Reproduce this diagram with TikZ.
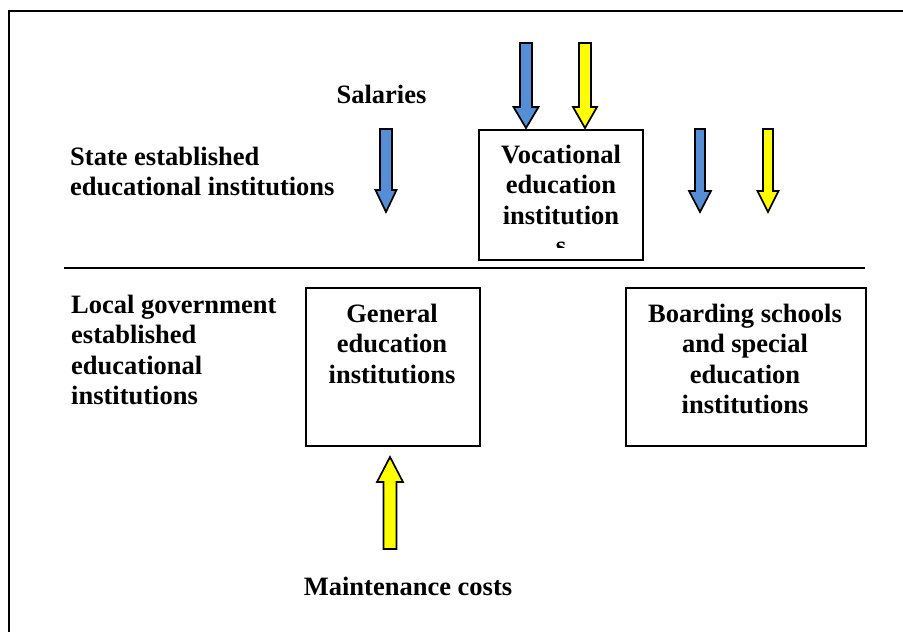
\documentclass[tikz,border=0pt]{standalone}
\usepackage{fontspec}
\setmainfont{Liberation Serif}
\definecolor{arrblue}{RGB}{85,142,213}
\definecolor{arryellow}{RGB}{255,255,0}
% block arrow: fill colour, centre x, tail y, head-start y, tip y, shaft half width, head half width
\newcommand\blockarr[7]{\filldraw[arrowbody,fill=#1] (#2-#6,#3) -- (#2+#6,#3) -- (#2+#6,#4) -- (#2+#7,#4) -- (#2,#5) -- (#2-#7,#4) -- (#2-#6,#4) -- cycle;}
\newcommand\firstline{\rule{0pt}{20pt}}
\begin{document}
\begin{tikzpicture}[x=1pt,y=-1pt,
  lbl/.style={inner sep=0pt, font=\fontsize{26.5}{30.5}\selectfont\bfseries},
  boxshape/.style={draw, line width=2pt, inner sep=0pt, anchor=north west},
  arrowbody/.style={draw=black, line width=1.7pt, line join=miter}]
\useasboundingbox (0,0) rectangle (903,632);
\draw[line width=2.2pt] (9,632) -- (9,11) -- (903,11);

% divider
\coordinate (divL) at (64,268);
\coordinate (divR) at (865,268);
\draw[line width=2pt] (divL) -- (divR);

% boxes
\node[boxshape, minimum width=164pt, minimum height=130pt] (voc) at (478,129) {};
\node[boxshape, minimum width=174pt, minimum height=158pt] (gen) at (305,287) {};
\node[boxshape, minimum width=240pt, minimum height=158pt] (board) at (625,287) {};

% box texts
\begin{scope}
\clip (478,129) rectangle (642,247.5);
\node[lbl, align=center, anchor=north] (voct) at (561,143) {\firstline Vocational\\education\\institution\\s};
\end{scope}
\node[lbl, align=center, anchor=north] (gent) at (392,302) {\firstline General\\education\\institutions};
\node[lbl, align=center, anchor=north] (boardt) at (745,302) {\firstline Boarding schools\\and special\\education\\institutions};

% left labels
\node[lbl, align=left, anchor=north west] (state) at (70,145) {\firstline State established\\educational institutions};
\node[lbl, align=left, anchor=north west] (local) at (71,293) {\firstline Local government\\established\\educational\\institutions};

% other labels
\node[lbl, anchor=north] (sal) at (381.5,83) {\firstline Salaries};
\node[lbl, anchor=north] (maint) at (408,575) {\firstline Maintenance costs};

% arrows
\blockarr{arrblue}{386}{129}{190}{212}{6}{10.5}
\blockarr{arrblue}{526}{43}{107}{128}{6}{12.5}
\blockarr{arryellow}{585}{43}{107}{128}{6}{12}
\blockarr{arrblue}{700}{129}{191}{212}{5}{11}
\blockarr{arryellow}{768}{129}{191}{212}{5}{10.5}
\blockarr{arryellow}{390}{549}{482}{457}{6.5}{13}
\end{tikzpicture}
\end{document}
